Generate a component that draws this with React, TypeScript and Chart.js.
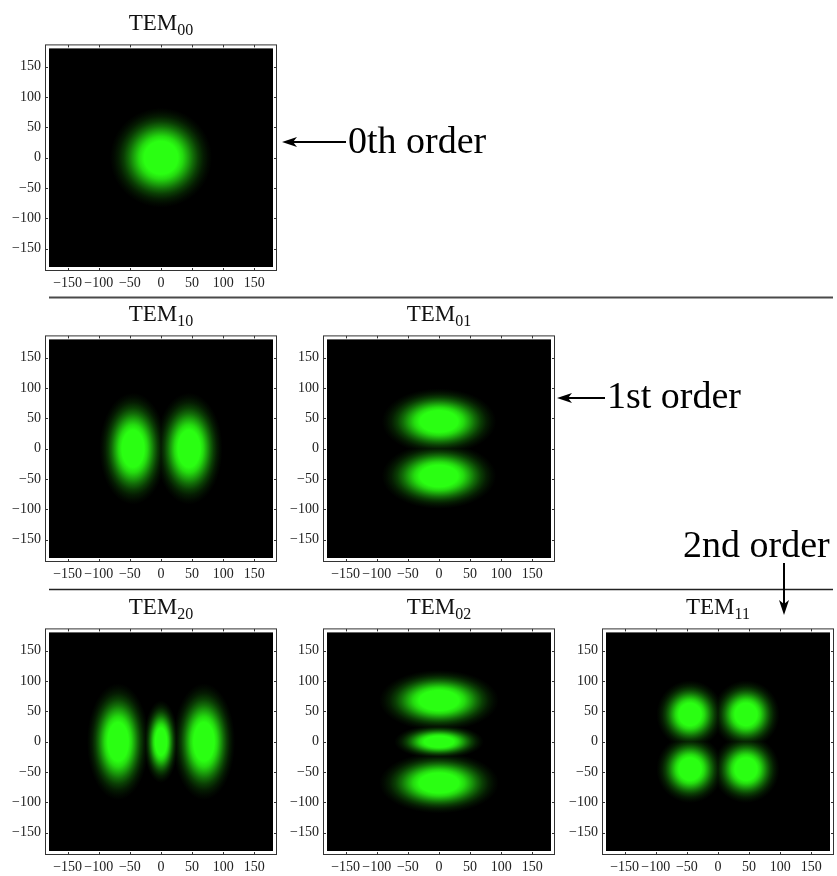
import React, { useEffect, useRef } from "react";
import { Chart, registerables } from "chart.js";

Chart.register(...registerables);

// ---------- data ----------
const AXIS_MIN = -180;
const AXIS_MAX = 180;
const TICK_VALUES = [-150, -100, -50, 0, 50, 100, 150];

// Each lobe: [centerX, centerY, radiusX, radiusY] in axis units
const TEM00_LOBES = [[0, 0, 82, 82]];
const TEM10_LOBES = [[-45, 0, 54, 92], [45, 0, 54, 92]];
const TEM01_LOBES = [[0, 45, 92, 54], [0, -45, 92, 54]];
const TEM20_LOBES = [[-69, 0, 50, 96], [0, 0, 28, 68], [69, 0, 50, 96]];
const TEM02_LOBES = [[0, 68, 96, 50], [0, 0, 72, 28], [0, -68, 96, 50]];
const TEM11_LOBES = [[-45, 45, 54, 56], [45, 45, 54, 56], [-45, -45, 54, 56], [45, -45, 54, 56]];

const MODE_INDICES = ["00", "10", "01", "20", "02", "11"];
const ORDER_LABELS = ["0th order", "1st order", "2nd order"];

// ---------- style ----------
const GREEN = [42, 255, 18];
const GLOW_STOPS: [number, number][] = [
  [0, 1], [0.33, 1], [0.43, 0.86], [0.53, 0.64], [0.63, 0.42], [0.73, 0.24], [0.83, 0.11], [0.92, 0.04], [1, 0],
];
const SERIF = '"Liberation Serif", "Times New Roman", serif';
const AX_W = 46;
const AX_H = 30;
const PAD_T = 10;
const PAD_R = 10;
const PLOT_W = 224;
const PLOT_H = 225;

const fmt = (v: number | string) => String(v).replace("-", "\u2212");

const heatPlugin = {
  id: "heat",
  beforeDatasetsDraw(chart: any) {
    const { ctx, chartArea: a, scales } = chart;
    const xs = scales.x;
    const ys = scales.y;
    ctx.save();
    ctx.fillStyle = "#000";
    ctx.fillRect(a.left, a.top, a.right - a.left, a.bottom - a.top);
    ctx.beginPath();
    ctx.rect(a.left, a.top, a.right - a.left, a.bottom - a.top);
    ctx.clip();
    ctx.globalCompositeOperation = "lighten";
    for (const p of chart.data.datasets[0].data) {
      const cx = xs.getPixelForValue(p.x);
      const cy = ys.getPixelForValue(p.y);
      const rx = Math.abs(xs.getPixelForValue(p.x + p.rx) - cx);
      const ry = Math.abs(ys.getPixelForValue(p.y + p.ry) - cy);
      ctx.save();
      ctx.translate(cx, cy);
      ctx.scale(rx, ry);
      const g = ctx.createRadialGradient(0, 0, 0, 0, 0, 1);
      for (const [t, al] of GLOW_STOPS) {
        g.addColorStop(t, `rgb(${Math.round(GREEN[0] * al)},${Math.round(GREEN[1] * al)},${Math.round(GREEN[2] * al)})`);
      }
      ctx.fillStyle = g;
      ctx.beginPath();
      ctx.arc(0, 0, 1, 0, Math.PI * 2);
      ctx.fill();
      ctx.restore();
    }
    ctx.restore();
  },
  afterDraw(chart: any) {
    const { ctx, chartArea: a, scales } = chart;
    const o = 3.5;
    ctx.save();
    ctx.strokeStyle = "#333";
    ctx.lineWidth = 1;
    const L = a.left - o, R = a.right + o, T = a.top - o, B = a.bottom + o;
    ctx.strokeRect(L, T, R - L, B - T);
    ctx.beginPath();
    for (const v of TICK_VALUES) {
      const px = Math.round(scales.x.getPixelForValue(v)) + 0.5;
      ctx.moveTo(px, B); ctx.lineTo(px, B - 2.5);
      ctx.moveTo(px, T); ctx.lineTo(px, T + 2.5);
      const py = Math.round(scales.y.getPixelForValue(v)) + 0.5;
      ctx.moveTo(L, py); ctx.lineTo(L + 2.5, py);
      ctx.moveTo(R, py); ctx.lineTo(R - 2.5, py);
    }
    ctx.stroke();
    ctx.restore();
  },
};

type Box = { left: number; top: number };

function ModePlot({ lobes, box, index }: { lobes: number[][]; box: Box; index: string }) {
  const ref = useRef<HTMLCanvasElement>(null);
  useEffect(() => {
    if (!ref.current) return;
    const tickFont = { family: SERIF, size: 14 };
    const chart = new Chart(ref.current, {
      type: "scatter",
      data: {
        datasets: [
          {
            data: lobes.map(([x, y, rx, ry]) => ({ x, y, rx, ry })) as any,
            pointRadius: 0,
            pointHoverRadius: 0,
          },
        ],
      },
      options: {
        animation: false,
        responsive: false,
        events: [],
        layout: { padding: { left: 0, top: PAD_T, right: PAD_R, bottom: 0 } },
        plugins: {
          legend: { display: false },
          tooltip: { enabled: false },
          title: { display: false },
        },
        scales: {
          x: {
            type: "linear",
            min: AXIS_MIN,
            max: AXIS_MAX,
            afterBuildTicks: (s: any) => {
              s.ticks = TICK_VALUES.map((v) => ({ value: v }));
            },
            afterFit: (s: any) => {
              s.height = AX_H;
            },
            grid: { display: false, drawTicks: false },
            border: { display: false },
            ticks: {
              padding: 8,
              font: tickFont,
              color: "#222",
              maxRotation: 0,
              autoSkip: false,
              callback: (v: any) => fmt(v),
            },
          },
          y: {
            type: "linear",
            min: AXIS_MIN,
            max: AXIS_MAX,
            afterBuildTicks: (s: any) => {
              s.ticks = TICK_VALUES.map((v) => ({ value: v }));
            },
            afterFit: (s: any) => {
              s.width = AX_W;
            },
            grid: { display: false, drawTicks: false },
            border: { display: false },
            ticks: {
              padding: 8,
              font: tickFont,
              color: "#222",
              autoSkip: false,
              callback: (v: any) => fmt(v),
            },
          },
        },
      } as any,
      plugins: [heatPlugin],
    });
    return () => chart.destroy();
  }, [lobes]);

  const cw = AX_W + PLOT_W + PAD_R;
  const ch = PAD_T + PLOT_H + AX_H;
  const cx = box.left + PLOT_W / 2;
  const titleBaseline = box.top - 12;
  return (
    <>
      <canvas
        ref={ref}
        width={cw}
        height={ch}
        style={{ position: "absolute", left: box.left - AX_W, top: box.top - PAD_T, width: cw, height: ch }}
      />
      <div
        style={{
          position: "absolute",
          left: cx - 70,
          width: 140,
          top: titleBaseline - 19,
          textAlign: "center",
          fontFamily: SERIF,
          fontSize: 23,
          lineHeight: "23px",
          color: "#111",
          whiteSpace: "nowrap",
        }}
      >
        TEM
        <span style={{ fontSize: 16, position: "relative", top: 5 }}>{index}</span>
      </div>
    </>
  );
}

const BOXES: Box[] = [
  { left: 49, top: 42 },
  { left: 49, top: 333 },
  { left: 327, top: 333 },
  { left: 49, top: 626 },
  { left: 327, top: 626 },
  { left: 606, top: 626 },
];
const LOBE_SETS = [TEM00_LOBES, TEM10_LOBES, TEM01_LOBES, TEM20_LOBES, TEM02_LOBES, TEM11_LOBES];

function ArrowHead({ x, y, dir }: { x: number; y: number; dir: "left" | "down" }) {
  const len = 15, half = 5, notch = 11;
  let pts: number[][];
  if (dir === "left") {
    pts = [[x, y], [x + len, y - half], [x + notch, y], [x + len, y + half]];
  } else {
    pts = [[x, y], [x - half, y - len], [x, y - notch], [x + half, y - len]];
  }
  return <polygon points={pts.map((p) => p.join(",")).join(" ")} fill="#000" />;
}

export default function App() {
  const textStyle = (left: number, baseline: number): React.CSSProperties => ({
    position: "absolute",
    left,
    top: baseline - 32,
    fontFamily: SERIF,
    fontSize: 38,
    lineHeight: "38px",
    color: "#000",
    whiteSpace: "nowrap",
  });
  return (
    <div
      style={{
        position: "absolute",
        left: 0,
        top: 0,
        width: 837,
        height: 876,
        overflow: "hidden",
        background: "#fff",
      }}
    >
      {BOXES.map((b, i) => (
        <ModePlot key={i} box={b} lobes={LOBE_SETS[i]} index={MODE_INDICES[i]} />
      ))}
      <svg width={837} height={876} style={{ position: "absolute", left: 0, top: 0 }}>
        <line x1={49} y1={297.5} x2={833} y2={297.5} stroke="#4a4a4a" strokeWidth={2} />
        <line x1={49} y1={589.5} x2={833} y2={589.5} stroke="#222" strokeWidth={1.5} />
        <line x1={290} y1={142} x2={346} y2={142} stroke="#000" strokeWidth={2} />
        <ArrowHead x={282} y={142} dir="left" />
        <line x1={565} y1={398} x2={605} y2={398} stroke="#000" strokeWidth={2} />
        <ArrowHead x={557} y={398} dir="left" />
        <line x1={784} y1={563} x2={784} y2={607} stroke="#000" strokeWidth={2} />
        <ArrowHead x={784} y={615} dir="down" />
      </svg>
      <div style={textStyle(348, 153)}>{ORDER_LABELS[0]}</div>
      <div style={textStyle(607, 408)}>{ORDER_LABELS[1]}</div>
      <div style={textStyle(683, 557)}>{ORDER_LABELS[2]}</div>
    </div>
  );
}
